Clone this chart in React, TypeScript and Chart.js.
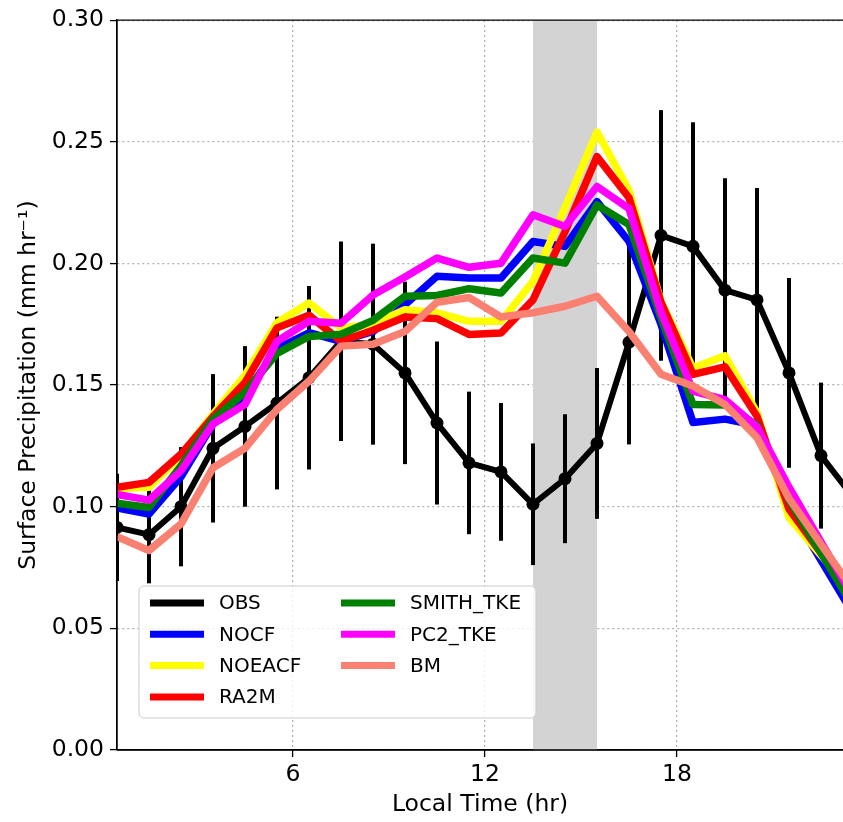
import React, { useEffect, useRef } from 'react';
import { Chart, registerables } from 'chart.js';

Chart.register(...registerables);

// ---------------- data ----------------
const hours = [0.5, 1.5, 2.5, 3.5, 4.5, 5.5, 6.5, 7.5, 8.5, 9.5, 10.5, 11.5, 12.5, 13.5, 14.5, 15.5, 16.5, 17.5, 18.5, 19.5, 20.5, 21.5, 22.5, 23.5];

const obs = [0.0915, 0.0885, 0.100, 0.124, 0.133, 0.1426, 0.153, 0.168, 0.1668, 0.155, 0.1344, 0.118, 0.1143, 0.101, 0.1115, 0.126, 0.1676, 0.2115, 0.207, 0.189, 0.185, 0.155, 0.121, 0.104];
const obsErr = [0.022, 0.020, 0.0245, 0.0305, 0.033, 0.0355, 0.0377, 0.041, 0.0413, 0.0375, 0.0335, 0.0293, 0.0283, 0.025, 0.0265, 0.031, 0.042, 0.0515, 0.051, 0.046, 0.046, 0.039, 0.030, 0.026];

const nocf = [0.0995, 0.097, 0.1123, 0.134, 0.146, 0.165, 0.1715, 0.168, 0.172, 0.183, 0.1947, 0.194, 0.194, 0.209, 0.207, 0.2254, 0.209, 0.175, 0.1346, 0.136, 0.1335, 0.100, 0.078, 0.056];
const noeacf = [0.1075, 0.108, 0.121, 0.138, 0.154, 0.1756, 0.1837, 0.1735, 0.175, 0.181, 0.1797, 0.1762, 0.1762, 0.1926, 0.223, 0.254, 0.230, 0.1844, 0.157, 0.162, 0.1387, 0.0955, 0.080, 0.065];
const ra2m = [0.108, 0.110, 0.1216, 0.137, 0.151, 0.1735, 0.1787, 0.168, 0.1725, 0.178, 0.1773, 0.1708, 0.1714, 0.185, 0.213, 0.2439, 0.227, 0.184, 0.1544, 0.1575, 0.1372, 0.099, 0.081, 0.063];
const smithTke = [0.1014, 0.0997, 0.1168, 0.136, 0.147, 0.163, 0.170, 0.1709, 0.1766, 0.1865, 0.1868, 0.1896, 0.1878, 0.2022, 0.2001, 0.224, 0.216, 0.1776, 0.142, 0.1418, 0.1335, 0.1026, 0.081, 0.059];
const pc2Tke = [0.105, 0.1027, 0.1148, 0.134, 0.142, 0.168, 0.1762, 0.1754, 0.187, 0.1944, 0.2022, 0.1984, 0.2001, 0.220, 0.2152, 0.2316, 0.2225, 0.180, 0.1475, 0.144, 0.1328, 0.108, 0.0855, 0.063];
const bm = [0.0877, 0.082, 0.0929, 0.116, 0.124, 0.140, 0.1516, 0.166, 0.1668, 0.172, 0.184, 0.186, 0.178, 0.1797, 0.1824, 0.1865, 0.172, 0.1544, 0.1496, 0.142, 0.1284, 0.1034, 0.0845, 0.066];

const seriesLabels = ['OBS', 'NOCF', 'NOEACF', 'RA2M', 'SMITH_TKE', 'PC2_TKE', 'BM'];
const seriesColors = ['#000000', '#0000ff', '#ffff00', '#ff0000', '#008000', '#ff00ff', '#fa8072'];

const xTicks = [6, 12, 18];
const yTicks = [0, 0.05, 0.1, 0.15, 0.2, 0.25, 0.3];
const shadeRange = [13.5, 15.5];
const xRange = [0.5, 23.1875];
const yRange = [0, 0.3];

const xTitle = 'Local Time (hr)';
const yTitle = 'Surface Precipitation (mm hr\u207B\u00B9)';

const FONT = '"DejaVu Sans", Verdana, sans-serif';

// ---------------- plugins ----------------
const shadePlugin = {
  id: 'shade',
  beforeDatasetsDraw(chart: any) {
    const { ctx, chartArea, scales } = chart;
    const x1 = scales.x.getPixelForValue(shadeRange[0]);
    const x2 = scales.x.getPixelForValue(shadeRange[1]);
    ctx.save();
    ctx.fillStyle = '#d3d3d3';
    ctx.fillRect(x1, chartArea.top, x2 - x1, chartArea.bottom - chartArea.top);
    ctx.restore();
  },
};

const errorBarPlugin = {
  id: 'errorBars',
  beforeDatasetsDraw(chart: any) {
    const { ctx, chartArea, scales } = chart;
    ctx.save();
    ctx.beginPath();
    ctx.rect(chartArea.left, chartArea.top, chartArea.right - chartArea.left, chartArea.bottom - chartArea.top);
    ctx.clip();
    ctx.strokeStyle = '#000000';
    ctx.lineWidth = 4;
    ctx.lineCap = 'butt';
    for (let i = 0; i < hours.length; i++) {
      const x = scales.x.getPixelForValue(hours[i]);
      const yl = scales.y.getPixelForValue(obs[i] - obsErr[i]);
      const yh = scales.y.getPixelForValue(obs[i] + obsErr[i]);
      ctx.beginPath();
      ctx.moveTo(x, yl);
      ctx.lineTo(x, yh);
      ctx.stroke();
    }
    ctx.restore();
  },
};

const framePlugin = {
  id: 'frame',
  afterDatasetsDraw(chart: any) {
    const { ctx, chartArea } = chart;
    ctx.save();
    ctx.strokeStyle = '#000000';
    ctx.lineWidth = 1.3;
    ctx.beginPath();
    ctx.moveTo(chartArea.left, chartArea.bottom);
    ctx.lineTo(chartArea.left, chartArea.top);
    ctx.lineTo(chartArea.right, chartArea.top);
    ctx.moveTo(chartArea.left, chartArea.bottom);
    ctx.lineTo(chartArea.right, chartArea.bottom);
    ctx.stroke();
    ctx.restore();
  },
};

const legendPlugin = {
  id: 'boxLegend',
  afterDraw(chart: any) {
    const { ctx } = chart;
    const bx = 139, by = 586, bw = 397, bh = 132, r = 5;
    ctx.save();
    ctx.beginPath();
    ctx.moveTo(bx + r, by);
    ctx.lineTo(bx + bw - r, by);
    ctx.arcTo(bx + bw, by, bx + bw, by + r, r);
    ctx.lineTo(bx + bw, by + bh - r);
    ctx.arcTo(bx + bw, by + bh, bx + bw - r, by + bh, r);
    ctx.lineTo(bx + r, by + bh);
    ctx.arcTo(bx, by + bh, bx, by + bh - r, r);
    ctx.lineTo(bx, by + r);
    ctx.arcTo(bx, by, bx + r, by, r);
    ctx.closePath();
    ctx.fillStyle = 'rgba(255,255,255,0.8)';
    ctx.fill();
    ctx.strokeStyle = '#cccccc';
    ctx.lineWidth = 1;
    ctx.stroke();

    const rows = 4;
    const colHandleX = [150, 341];
    const handleLen = 54;
    const textGap = 15;
    const rowY0 = 603, rowDy = 31.3;
    ctx.font = '20px ' + FONT;
    ctx.textBaseline = 'middle';
    ctx.textAlign = 'left';
    chart.data.datasets.forEach((ds: any, i: number) => {
      const col = Math.floor(i / rows);
      const row = i % rows;
      const hx = colHandleX[col];
      const y = rowY0 + row * rowDy;
      ctx.strokeStyle = ds.borderColor;
      ctx.lineWidth = 7;
      ctx.lineCap = 'butt';
      ctx.beginPath();
      ctx.moveTo(hx, y);
      ctx.lineTo(hx + handleLen, y);
      ctx.stroke();
      ctx.fillStyle = '#000000';
      ctx.fillText(ds.label, hx + handleLen + textGap, y + 1);
    });
    ctx.restore();
  },
};

const allSeries = [obs, nocf, noeacf, ra2m, smithTke, pc2Tke, bm];

export default function App() {
  const canvasRef = useRef<HTMLCanvasElement | null>(null);

  useEffect(() => {
    const canvas = canvasRef.current;
    if (!canvas) return;

    const datasets = allSeries.map((vals, k) => ({
      label: seriesLabels[k],
      data: hours.map((h, i) => ({ x: h, y: vals[i] })),
      borderColor: seriesColors[k],
      backgroundColor: seriesColors[k],
      borderWidth: k === 0 ? 6 : 7.5,
      pointRadius: k === 0 ? 6.5 : 0,
      pointHoverRadius: 0,
      pointBorderWidth: 0,
      pointBackgroundColor: seriesColors[k],
      borderJoinStyle: 'round' as const,
      borderCapStyle: 'butt' as const,
      tension: 0,
      fill: false,
      clip: 0,
      order: k === 0 ? 10 : 7 - k,
    }));

    const chart = new Chart(canvas, {
      type: 'line',
      data: { datasets },
      options: {
        responsive: false,
        devicePixelRatio: 1,
        animation: false,
        events: [],
        layout: { autoPadding: false, padding: { left: 0, right: 0, top: 18, bottom: 0 } },
        plugins: {
          legend: { display: false },
          tooltip: { enabled: false },
        },
        scales: {
          x: {
            type: 'linear',
            min: xRange[0],
            max: xRange[1],
            afterBuildTicks: (axis: any) => {
              axis.ticks = xTicks.map((v) => ({ value: v }));
            },
            afterFit: (axis: any) => {
              axis.height = 72;
            },
            ticks: {
              autoSkip: false,
              maxRotation: 0,
              padding: 4,
              color: '#000000',
              font: { family: FONT, size: 23.5, lineHeight: 1.2 },
              callback: (v: any) => String(v),
            },
            grid: {
              color: '#b0b0b0',
              lineWidth: 1.2,
              tickLength: 7,
              tickColor: '#000000',
              tickWidth: 1.3,
              tickBorderDash: [],
            },
            border: { display: true, color: '#000000', width: 1.3, dash: [2, 3] },
            title: {
              display: true,
              text: xTitle,
              color: '#000000',
              font: { family: FONT, size: 23.5, lineHeight: 1.2 },
              padding: { top: 0, bottom: 3 },
            },
          },
          y: {
            type: 'linear',
            min: yRange[0],
            max: yRange[1],
            afterBuildTicks: (axis: any) => {
              axis.ticks = yTicks.map((v) => ({ value: v }));
            },
            afterFit: (axis: any) => {
              axis.width = 117;
            },
            ticks: {
              autoSkip: false,
              padding: 6,
              color: '#000000',
              font: { family: FONT, size: 23.5 },
              callback: (v: any) => Number(v).toFixed(2),
            },
            grid: {
              color: '#b0b0b0',
              lineWidth: 1.2,
              tickLength: 7,
              tickColor: '#000000',
              tickWidth: 1.3,
              tickBorderDash: [],
            },
            border: { display: true, color: '#000000', width: 1.3, dash: [2, 3] },
            title: {
              display: true,
              text: yTitle,
              color: '#000000',
              font: { family: FONT, size: 23.5, lineHeight: 1.0 },
              padding: { top: 17, bottom: 0 },
            },
          },
        },
      },
      plugins: [shadePlugin, errorBarPlugin, framePlugin, legendPlugin],
    } as any);

    return () => chart.destroy();
  }, []);

  return (
    <div style={{ position: 'fixed', left: 0, top: 0, width: 843, height: 822, background: '#ffffff' }}>
      <canvas ref={canvasRef} width={843} height={822} style={{ display: 'block', width: 843, height: 822 }} />
    </div>
  );
}
